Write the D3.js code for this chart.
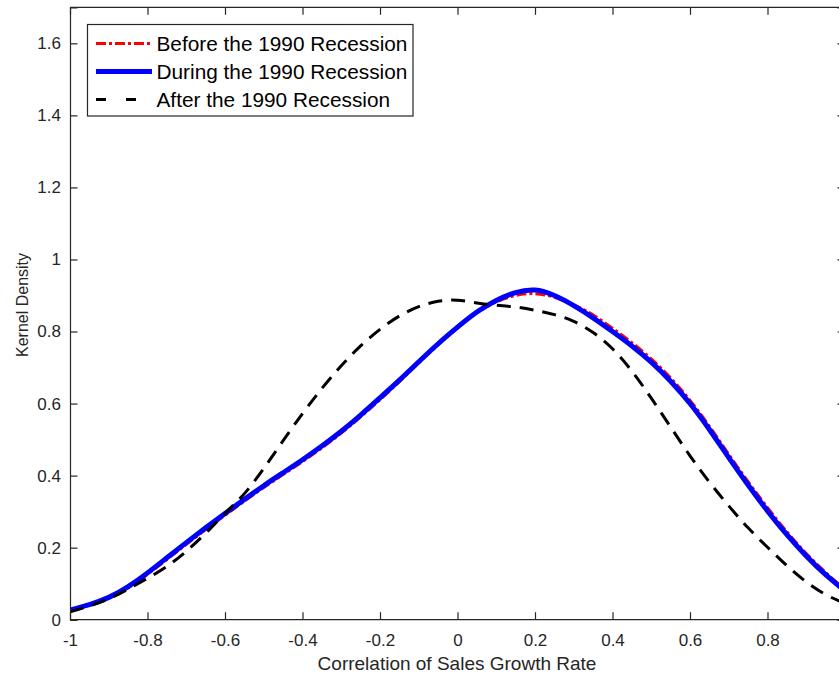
<!DOCTYPE html>
<html><head><meta charset="utf-8">
<script src="https://cdn.jsdelivr.net/npm/d3@7"></script>
<style>body{margin:0;background:#fff}svg{display:block;font-family:"Liberation Sans",Arial,sans-serif}</style>
</head><body>
<svg id="c" width="839" height="677"></svg>
<script>
const xGrid = [-1.00,-0.95,-0.90,-0.85,-0.80,-0.75,-0.70,-0.65,-0.60,-0.55,-0.50,-0.45,-0.40,-0.35,-0.30,-0.25,-0.20,-0.15,-0.10,-0.05,0.00,0.05,0.10,0.15,0.20,0.25,0.30,0.35,0.40,0.45,0.50,0.55,0.60,0.65,0.70,0.75,0.80,0.85,0.90,0.95,1.00];
const beforeVals = [0.026,0.041,0.060,0.089,0.126,0.167,0.209,0.250,0.290,0.329,0.367,0.403,0.439,0.477,0.518,0.563,0.611,0.661,0.713,0.763,0.810,0.852,0.882,0.900,0.905,0.895,0.874,0.846,0.809,0.769,0.724,0.671,0.609,0.537,0.459,0.383,0.311,0.244,0.184,0.131,0.084];
const duringVals = [0.027,0.042,0.062,0.092,0.130,0.172,0.214,0.255,0.295,0.334,0.372,0.408,0.444,0.482,0.523,0.568,0.616,0.665,0.716,0.766,0.812,0.854,0.886,0.908,0.915,0.900,0.872,0.838,0.800,0.760,0.715,0.662,0.600,0.528,0.450,0.374,0.302,0.236,0.177,0.125,0.080];
const afterVals = [0.022,0.038,0.058,0.085,0.115,0.148,0.190,0.240,0.295,0.350,0.420,0.497,0.572,0.642,0.705,0.760,0.806,0.843,0.869,0.884,0.887,0.879,0.873,0.868,0.859,0.847,0.828,0.797,0.752,0.690,0.615,0.535,0.455,0.382,0.316,0.255,0.201,0.150,0.105,0.070,0.045];
const seriesNames = ["Before the 1990 Recession","During the 1990 Recession","After the 1990 Recession"];
const xTicks = [-1,-0.8,-0.6,-0.4,-0.2,0,0.2,0.4,0.6,0.8];
const yTicks = [0,0.2,0.4,0.6,0.8,1,1.2,1.4,1.6];

const svg = d3.select("#c");
const L = 70, R = 845, T = 7.3, B = 619.7;
const x = d3.scaleLinear().domain([-1,1]).range([L,R]);
const y = d3.scaleLinear().domain([0,1.7]).range([B,T]);
const axisCol = "#262626";
const fmt = d => String(d);

svg.append("defs").append("clipPath").attr("id","clip").append("rect")
  .attr("x",L).attr("y",T).attr("width",R-L).attr("height",B-T);

const styles = [
  {data: beforeVals, color:"#ff0000", w:3, dash:"10,3,3,3", ldash:"10,3,3,3"},
  {data: duringVals, color:"#0000ff", w:5, dash:null, ldash:null},
  {data: afterVals, color:"#000000", w:3, dash:"14,9", ldash:"10,20"}
];

const line = d3.line().x(d=>x(d[0])).y(d=>y(d[1])).curve(d3.curveNatural);
const g = svg.append("g").attr("clip-path","url(#clip)");
styles.forEach(s=>{
  g.append("path").attr("d", line(xGrid.map((v,i)=>[v,s.data[i]])))
    .attr("fill","none").attr("stroke",s.color).attr("stroke-width",s.w)
    .attr("stroke-dasharray",s.dash).attr("stroke-linejoin","round");
});

// axes
const ax = svg.append("g").attr("transform",`translate(0,${B})`)
  .call(d3.axisBottom(x).tickValues(xTicks).tickSize(-7.5).tickPadding(14).tickFormat(fmt));
const axT = svg.append("g").attr("transform",`translate(0,${T})`)
  .call(d3.axisTop(x).tickValues(xTicks).tickSize(-7.5).tickFormat(""));
const ay = svg.append("g").attr("transform",`translate(${L},0)`)
  .call(d3.axisLeft(y).tickValues(yTicks).tickSize(-7.5).tickPadding(9).tickFormat(fmt));
const ayR = svg.append("g").attr("transform",`translate(${R},0)`)
  .call(d3.axisRight(y).tickValues(yTicks).tickSize(-7.5).tickFormat(""));
[ax,axT,ay,ayR].forEach(a=>{
  a.selectAll("path").attr("stroke",axisCol).attr("stroke-width",1.2);
  a.selectAll("line").attr("stroke",axisCol).attr("stroke-width",1.2);
  a.selectAll("text").attr("fill",axisCol).attr("font-size",17).attr("font-family","Liberation Sans, Arial");
});
ax.selectAll("text").attr("dy","0.71em");
ax.select(".domain").attr("d",`M${L},0H${R}`);
axT.select(".domain").attr("d",`M${L},0H${R}`);

svg.append("text").attr("x",(317+597)/2).attr("y",670).attr("text-anchor","middle")
  .attr("font-size",19).attr("fill",axisCol).text("Correlation of Sales Growth Rate");
svg.append("text").attr("transform","translate(28,305) rotate(-90)").attr("text-anchor","middle")
  .attr("font-size",16).attr("fill",axisCol).text("Kernel Density");

// legend
const lg = svg.append("g");
lg.append("rect").attr("x",87.5).attr("y",24.5).attr("width",325.5).attr("height",91.5)
  .attr("fill","#fff").attr("stroke",axisCol).attr("stroke-width",1.2);
const rows = [43.5,71.5,99.5];
styles.forEach((s,i)=>{
  lg.append("line").attr("x1",96).attr("x2",152).attr("y1",rows[i]).attr("y2",rows[i])
    .attr("stroke",s.color).attr("stroke-width",s.w).attr("stroke-dasharray",s.ldash);
  lg.append("text").attr("x",156.5).attr("y",rows[i]).attr("dy","0.36em")
    .attr("font-size",20.8).attr("fill","#000").text(seriesNames[i]);
});
</script>
</body></html>
